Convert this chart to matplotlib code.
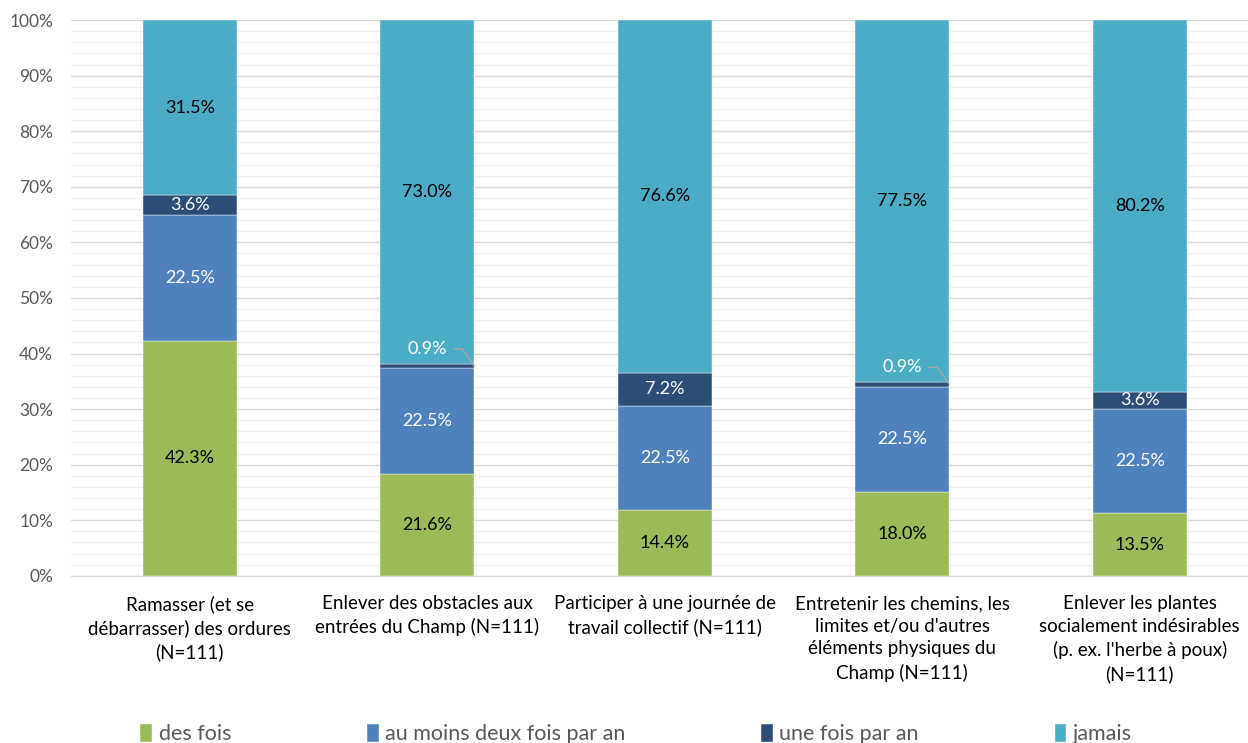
import numpy as np
import matplotlib
matplotlib.use("Agg")
import matplotlib.pyplot as plt
from matplotlib.ticker import MultipleLocator, PercentFormatter

plt.rcParams["font.family"] = ["Lato", "DejaVu Sans"]

categories = [
    "Ramasser (et se\ndébarrasser) des ordures\n(N=111)",
    "Enlever des obstacles aux\nentrées du Champ (N=111)",
    "Participer à une journée de\ntravail collectif (N=111)",
    "Entretenir les chemins, les\nlimites et/ou d'autres\néléments physiques du\nChamp (N=111)",
    "Enlever les plantes\nsocialement indésirables\n(p. ex. l'herbe à poux)\n(N=111)",
]
series_names = ["des fois", "au moins deux fois par an", "une fois par an", "jamais"]
des_fois = [42.3, 21.6, 14.4, 18.0, 13.5]
deux_fois = [22.5, 22.5, 22.5, 22.5, 22.5]
une_fois = [3.6, 0.9, 7.2, 0.9, 3.6]
jamais = [31.5, 73.0, 76.6, 77.5, 80.2]

colors = ["#9BBB59", "#4F81BD", "#2C4D75", "#4BACC6"]
label_colors = ["black", "white", "white", "black"]

raw = np.array([des_fois, deux_fois, une_fois, jamais])
# 100% stacked: each column normalised, labels keep the raw values
share = raw / raw.sum(axis=0) * 100

fig = plt.figure(figsize=(12.48, 7.43), dpi=100)
ax = fig.add_axes([0.057, 0.225, 0.943, 0.748])

x = np.arange(len(categories))
width = 0.396
bottom = np.zeros(len(categories))
for k in range(len(series_names)):
    ax.bar(x, share[k], width, bottom=bottom, color=colors[k], label=series_names[k],
           zorder=3, edgecolor="white", linewidth=0.3)
    for i in range(len(categories)):
        mid = bottom[i] + share[k][i] / 2
        txt = f"{raw[k][i]:.1f}%"
        if share[k][i] < 2:
            ax.annotate(txt, xy=(x[i] + width / 2, bottom[i] + share[k][i] / 2),
                        xytext=(-47, 17), textcoords="offset pixels",
                        ha="center", va="center", fontsize=13, color="white",
                        zorder=5,
                        arrowprops=dict(arrowstyle="-", color="#A6A6A6", lw=1,
                                        shrinkA=3, shrinkB=0,
                                        connectionstyle="angle,angleA=0,angleB=125,rad=0"))
        else:
            ax.text(x[i], mid, txt, ha="center", va="center", fontsize=13,
                    color=label_colors[k], zorder=4)
    bottom += share[k]

ax.set_xlim(-0.5, 4.456)
ax.set_ylim(0, 100)
ax.yaxis.set_major_locator(MultipleLocator(10))
ax.yaxis.set_minor_locator(MultipleLocator(2))
ax.yaxis.set_major_formatter(PercentFormatter(decimals=0))
ax.grid(axis="y", which="major", color="#D9D9D9", linewidth=1, zorder=0)
ax.grid(axis="y", which="minor", color="#F0F0F0", linewidth=1, zorder=0)
for s in ["top", "right", "left"]:
    ax.spines[s].set_visible(False)
ax.spines["bottom"].set_color("#D9D9D9")
ax.tick_params(axis="y", which="both", length=0, labelsize=12.5, labelcolor="#595959", pad=13)
ax.tick_params(axis="x", length=0, labelsize=13.5, pad=14)
ax.set_xticks(x)
ax.set_xticklabels(categories, linespacing=1.4)

leg = fig.legend(loc="lower left", bbox_to_anchor=(0.097, -0.028), ncol=4, frameon=False,
                 fontsize=15.5, handlelength=0.55, handleheight=0.9, handletextpad=0.3,
                 columnspacing=6.3)
for t in leg.get_texts():
    t.set_color("#595959")

fig.savefig("out.png", dpi=100)
